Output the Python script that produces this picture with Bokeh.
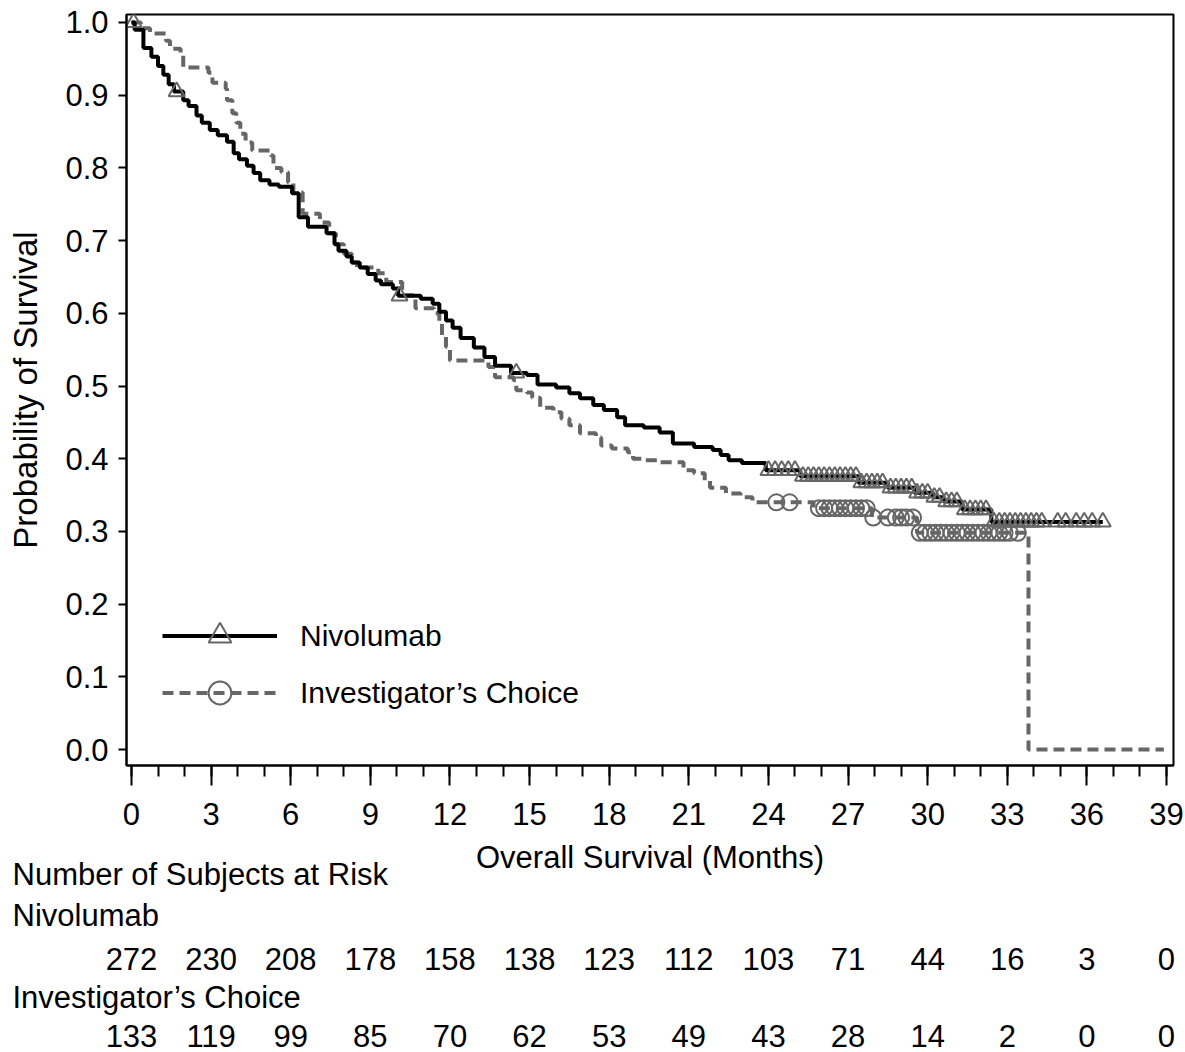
import numpy as np
from bokeh.plotting import figure
from bokeh.layouts import column
from bokeh.models import (Range1d, FixedTicker, NumeralTickFormatter, Legend, LegendItem)
from bokeh.core.properties import value
from bokeh.embed import file_html
from bokeh.resources import INLINE

FONT = "Liberation Sans"
GREY = "#666666"

# ---------------- data ----------------
niv_t = [0, 0.12, 0.45, 0.75, 1.00, 1.20, 1.40, 1.60, 1.95, 2.15, 2.45, 2.65, 2.95, 3.25, 3.60,
         3.85, 4.05, 4.35, 4.60, 4.85, 5.20, 5.55, 6.05, 6.30, 6.65, 7.35, 7.65, 7.80, 8.10, 8.30,
         8.60, 8.90, 9.20, 9.40, 9.85, 10.05, 10.90, 11.35, 11.60, 11.85, 12.10, 12.40, 12.90,
         13.30, 13.70, 14.30, 14.90, 15.30, 16.00, 16.50, 16.90, 17.40, 17.80, 18.30, 18.60,
         19.30, 19.90, 20.40, 21.20, 21.90, 22.20, 22.50, 23.00, 23.90, 25.20, 27.40, 28.50,
         29.50, 30.20, 30.60, 31.30, 32.40, 36.60]
niv_s = [1.000, 0.990, 0.965, 0.953, 0.940, 0.928, 0.915, 0.905, 0.893, 0.885, 0.872, 0.862,
         0.852, 0.845, 0.836, 0.820, 0.812, 0.803, 0.793, 0.783, 0.777, 0.774, 0.765, 0.732,
         0.719, 0.710, 0.695, 0.686, 0.678, 0.670, 0.663, 0.654, 0.645, 0.640, 0.634, 0.624,
         0.620, 0.613, 0.602, 0.590, 0.580, 0.566, 0.553, 0.540, 0.528, 0.518, 0.515, 0.502,
         0.498, 0.490, 0.483, 0.474, 0.467, 0.457, 0.446, 0.443, 0.436, 0.421, 0.416, 0.412,
         0.405, 0.398, 0.394, 0.384, 0.376, 0.367, 0.360, 0.353, 0.347, 0.341, 0.330, 0.313,
         0.313]
niv_censor = [0.08, 1.70, 10.10, 14.50, 24.0, 24.25, 24.5, 24.75, 25.0, 25.3, 25.5, 25.7, 25.9,
              26.1, 26.3, 26.5, 26.7, 26.9, 27.1, 27.3, 27.5, 27.7, 27.9, 28.1, 28.3, 28.6, 28.8,
              29.0, 29.2, 29.4, 29.6, 29.8, 30.0, 30.25, 30.45, 30.7, 30.9, 31.1, 31.4, 31.6,
              31.8, 32.0, 32.2, 32.5, 32.7, 32.9, 33.1, 33.3, 33.5, 33.7, 33.9, 34.1, 34.3, 34.9,
              35.2, 35.6, 35.9, 36.2, 36.6]

ic_t = [0, 0.35, 0.70, 1.30, 1.45, 1.85, 1.95, 2.90, 3.05, 3.55, 3.60, 3.80, 3.95, 4.10, 4.30,
        4.55, 5.25, 5.35, 5.65, 5.90, 6.10, 6.45, 7.10, 7.45, 7.70, 8.00, 8.30, 8.50, 9.30, 9.60,
        10.20, 10.70, 11.40, 11.60, 11.70, 11.85, 12.00, 13.45, 13.70, 14.40, 14.50, 14.90,
        15.10, 15.40, 15.90, 16.20, 16.50, 16.90, 17.50, 17.70, 18.10, 18.70, 18.90, 19.30,
        19.80, 20.80, 21.20, 21.60, 21.80, 22.40, 22.95, 23.40, 25.70, 27.90, 29.60, 33.80,
        38.90]
ic_s = [1.000, 0.992, 0.985, 0.975, 0.964, 0.955, 0.938, 0.931, 0.917, 0.909, 0.893, 0.875,
        0.862, 0.847, 0.835, 0.824, 0.817, 0.800, 0.794, 0.780, 0.766, 0.737, 0.725, 0.710,
        0.695, 0.682, 0.670, 0.663, 0.655, 0.643, 0.625, 0.607, 0.600, 0.588, 0.568, 0.554,
        0.535, 0.526, 0.512, 0.508, 0.494, 0.491, 0.484, 0.470, 0.464, 0.455, 0.446, 0.435,
        0.429, 0.418, 0.414, 0.409, 0.400, 0.398, 0.395, 0.384, 0.380, 0.370, 0.360, 0.352,
        0.347, 0.340, 0.332, 0.319, 0.298, 0.000, 0.000]
ic_censor = [24.3, 24.8, 25.9, 26.1, 26.3, 26.5, 26.7, 26.9, 27.1, 27.3, 27.5, 27.7, 27.95,
             28.5, 28.8, 29.0, 29.2, 29.45, 29.7, 29.9, 30.1, 30.3, 30.5, 30.7, 30.9, 31.1,
             31.3, 31.5, 31.7, 31.9, 32.1, 32.3, 32.5, 32.7, 32.9, 33.1, 33.4]

x_ticks = [0, 3, 6, 9, 12, 15, 18, 21, 24, 27, 30, 33, 36, 39]
y_ticks = [0.0, 0.1, 0.2, 0.3, 0.4, 0.5, 0.6, 0.7, 0.8, 0.9, 1.0]
risk_times = [0, 3, 6, 9, 12, 15, 18, 21, 24, 27, 30, 33, 36, 39]
risk_niv = [272, 230, 208, 178, 158, 138, 123, 112, 103, 71, 44, 16, 3, 0]
risk_ic = [133, 119, 99, 85, 70, 62, 53, 49, 43, 28, 14, 2, 0, 0]

series_names = ["Nivolumab", "Investigator\u2019s Choice"]
x_title = "Overall Survival (Months)"
y_title = "Probability of Survival"
risk_title = "Number of Subjects at Risk"


def surv_at(times, surv, pts):
    idx = np.searchsorted(np.asarray(times), np.asarray(pts), side="right") - 1
    return list(np.asarray(surv)[idx])


# ---------------- geometry ----------------
W = 1185
H1 = 838
H2 = 1052 - H1
BL, BR, BT = 126, 12, 14
BB = H1 - 765
X0, X1 = -0.188, 39.264
Y0, Y1 = -0.022, 1.011

# ---------------- main figure ----------------
p = figure(width=W, height=H1, output_backend="svg", toolbar_location=None,
           x_range=Range1d(X0, X1), y_range=Range1d(Y0, Y1),
           min_border_left=BL, min_border_right=BR, min_border_top=BT, min_border_bottom=BB)
p.frame_align = False
p.xgrid.visible = False
p.ygrid.visible = False
p.outline_line_color = "black"
p.outline_line_width = 2

xa = p.xaxis[0]
xa.ticker = FixedTicker(ticks=x_ticks, minor_ticks=list(range(0, 40)))
xa.axis_line_width = 2
xa.major_tick_line_width = 2
xa.minor_tick_line_width = 2
xa.major_tick_out = 20
xa.major_tick_in = 0
xa.minor_tick_out = 11
xa.minor_tick_in = 0
xa.major_label_text_font = FONT
xa.major_label_text_font_size = "31px"
xa.major_label_text_color = "black"
xa.major_label_standoff = 17

ya = p.yaxis[0]
ya.ticker = FixedTicker(ticks=y_ticks, minor_ticks=[])
ya.formatter = NumeralTickFormatter(format="0.0")
ya.axis_line_width = 2
ya.major_tick_line_width = 2
ya.major_tick_out = 8
ya.major_tick_in = 0
ya.minor_tick_out = 0
ya.minor_tick_in = 0
ya.major_label_text_font = FONT
ya.major_label_text_font_size = "31px"
ya.major_label_text_color = "black"
ya.major_label_standoff = 10
ya.axis_label = y_title
ya.axis_label_text_font = FONT
ya.axis_label_text_font_size = "33px"
ya.axis_label_text_font_style = "normal"
ya.axis_label_text_color = "black"
ya.axis_label_standoff = 18

ic_line = p.step(ic_t, ic_s, mode="after", line_color=GREY, line_width=4, line_dash="11 6")
niv_line = p.step(niv_t, niv_s, mode="after", line_color="black", line_width=4)
ic_marks = p.scatter(ic_censor, surv_at(ic_t, ic_s, ic_censor), marker="circle", size=16,
                     fill_color=None, line_color=GREY, line_width=2)
niv_marks = p.scatter(niv_censor, surv_at(niv_t, niv_s, niv_censor), marker="triangle", size=16,
                      fill_color=None, line_color=GREY, line_width=2)

legend = Legend(items=[LegendItem(label=series_names[0], renderers=[niv_line, niv_marks]),
                       LegendItem(label=series_names[1], renderers=[ic_line, ic_marks])],
                location=(36, 44), orientation="vertical")
legend.glyph_width = 115
legend.glyph_height = 57
legend.label_height = 57
legend.spacing = 0
legend.padding = 0
legend.margin = 0
legend.label_standoff = 23
legend.label_text_font = FONT
legend.label_text_font_size = "30px"
legend.label_text_color = "black"
legend.border_line_alpha = 0
legend.background_fill_alpha = 0
p.add_layout(legend)

# ---------------- lower panel: axis title + risk table ----------------
k = (W - BL - BR) / (X1 - X0)          # pixels per month in the main frame
zero_px = BL + (0 - X0) * k              # canvas x of month 0
tx0 = -zero_px / k
tx1 = (W - zero_px) / k

t = figure(width=W, height=H2, output_backend="svg", toolbar_location=None,
           x_range=Range1d(tx0, tx1), y_range=Range1d(H2, 0),
           x_axis_type=None, y_axis_type=None,
           min_border_left=0, min_border_right=0, min_border_top=0, min_border_bottom=0)
t.frame_align = False
t.outline_line_color = None
t.xgrid.visible = False
t.ygrid.visible = False

common = dict(text_font=value(FONT), text_color="black", text_baseline="middle",
              text_font_size=value("31px"))
t.text(x=[(X0 + X1) / 2], y=[19], text=[x_title], text_align="center", **common)
left_x = tx0 + 12 / k
t.text(x=[left_x] * 3, y=[36, 77, 159], text=[risk_title, series_names[0], series_names[1]],
       text_align="left", **common)
t.text(x=risk_times, y=[120] * len(risk_times), text=[str(v) for v in risk_niv],
       text_align="center", **common)
t.text(x=risk_times, y=[197] * len(risk_times), text=[str(v) for v in risk_ic],
       text_align="center", **common)

layout = column(p, t, spacing=0)
open("out.html", "w").write(file_html(layout, INLINE))
